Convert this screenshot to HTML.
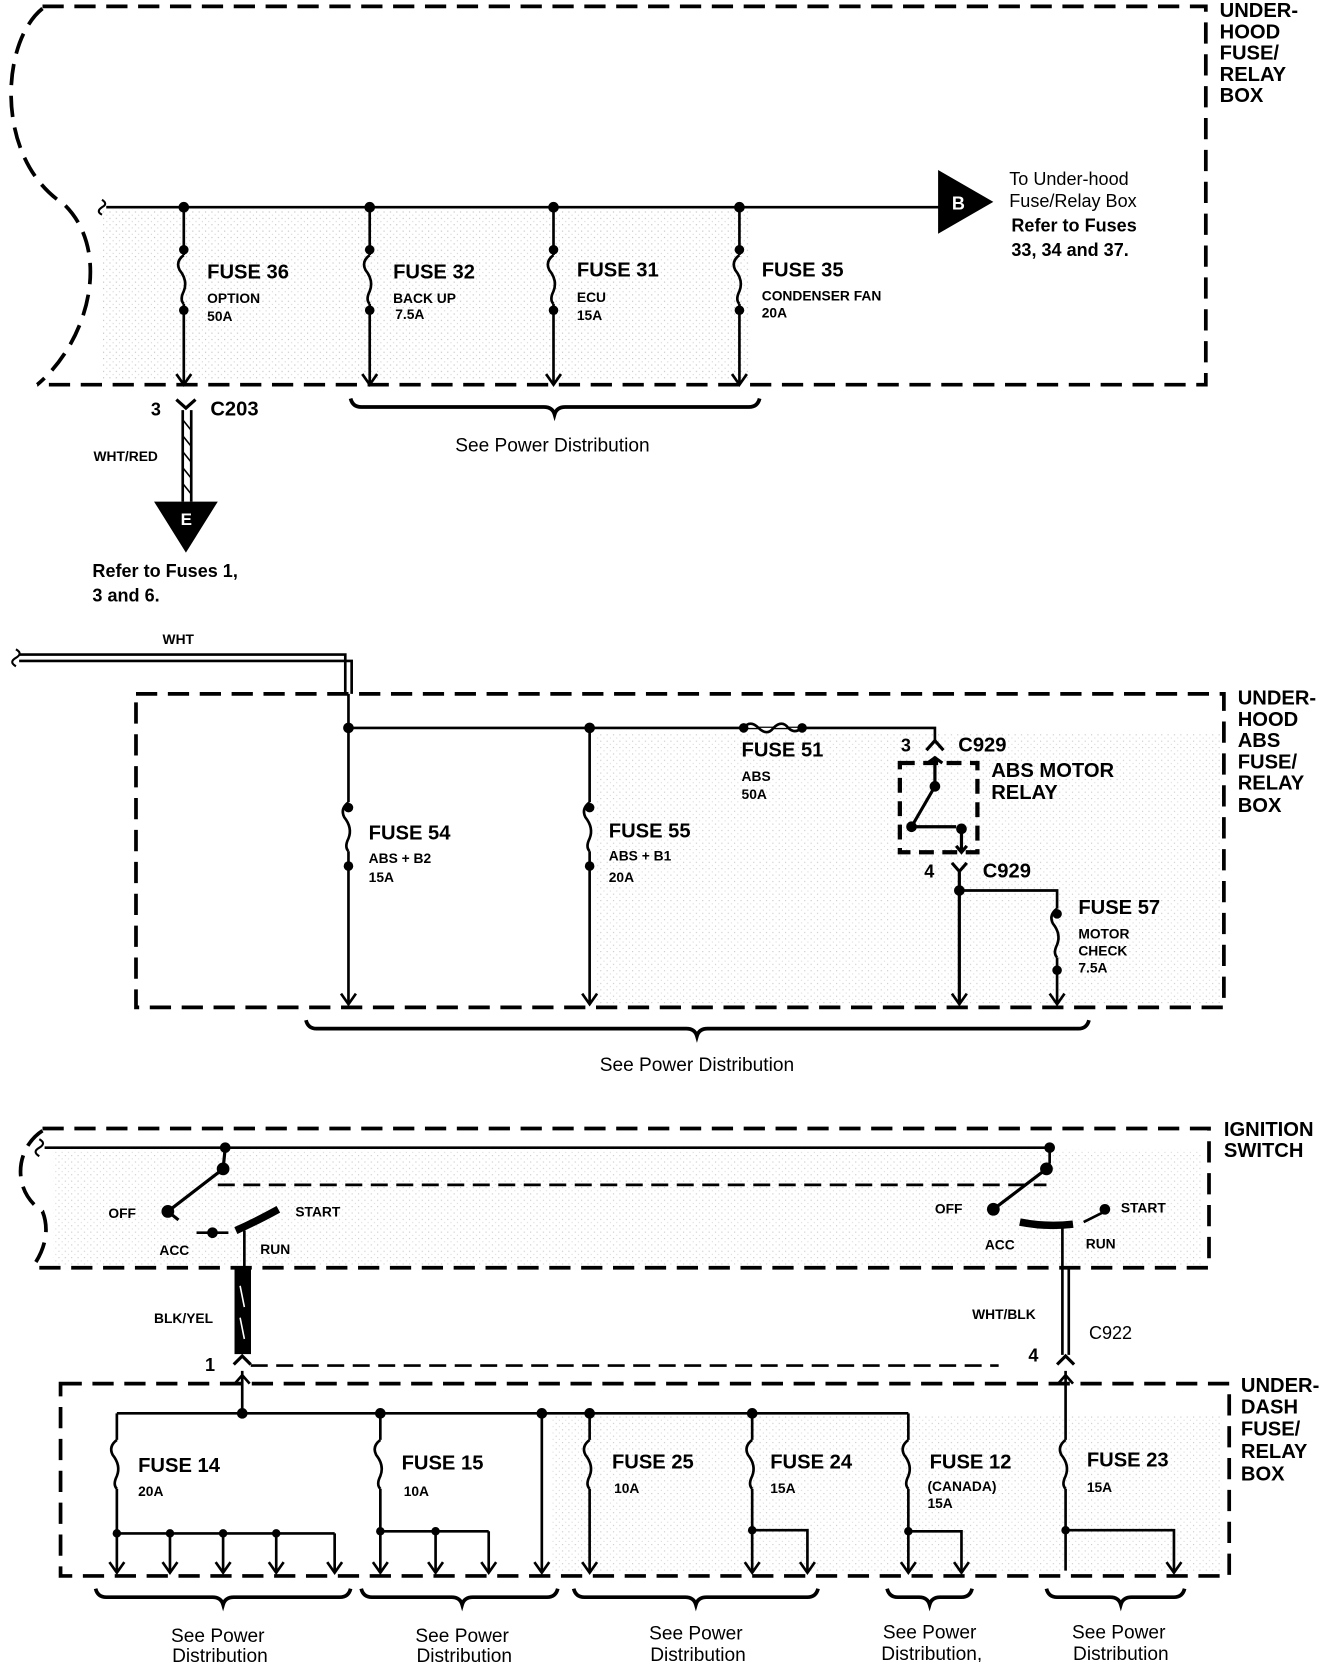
<!DOCTYPE html>
<html><head><meta charset="utf-8"><style>
html,body{margin:0;padding:0;background:#fff;}
svg{display:block;}
text{font-family:"Liberation Sans",Arial,sans-serif;font-weight:bold;fill:#000;}
.t{font-size:19px;}
.s{font-size:13px;}
.m{font-size:17px;}
.n{font-size:18px;font-weight:normal;}
</style></head><body>
<svg width="1328" height="1662" viewBox="0 0 1250 1564" preserveAspectRatio="none" xmlns="http://www.w3.org/2000/svg">
<defs>
<pattern id="dots" width="6" height="6" patternUnits="userSpaceOnUse"><rect width="6" height="6" fill="#fff"/><rect x="1" y="1" width="1" height="1" fill="#999"/><rect x="4" y="4" width="1" height="1" fill="#bbb"/></pattern>
<path id="fv" d="M0 0 q-8 6 -4 14 q8 10 4 20 q-4 8 0 12" fill="none" stroke="#000" stroke-width="2.5"/>
<path id="ar" d="M-7 -10 L0 0 L7 -10" fill="none" stroke="#000" stroke-width="2.5"/>
</defs>
<rect x="95" y="197" width="610" height="160" fill="url(#dots)" opacity="0.7"/>
<rect x="560" y="690" width="590" height="255" fill="url(#dots)" opacity="0.6"/>
<rect x="50" y="1082" width="1080" height="108" fill="url(#dots)" opacity="0.6"/>
<rect x="520" y="1332" width="630" height="148" fill="url(#dots)" opacity="0.6"/>
<g fill="none" stroke="#000" stroke-width="3.5" stroke-dasharray="20 10">
<path d="M40 6 L1135 6 L1135 362 L35 362" />
<path d="M40 8 C0 40 -5 150 60 192 C105 235 85 320 35 362"/>
<rect x="128" y="653" width="1024" height="295"/>
<path d="M40 1062 L1138 1062 L1138 1193 L30 1193"/>
<path d="M40 1064 C15 1080 10 1120 40 1140 C48 1160 40 1180 30 1193"/>
<rect x="57" y="1302" width="1100" height="181"/>
</g>
<rect x="847" y="718" width="73" height="84" fill="none" stroke="#000" stroke-width="4" stroke-dasharray="14 8"/>

<g fill="none" stroke="#000" stroke-width="2.5">
<path d="M100 195 L885 195"/>
<path d="M96 188 q6 4 0 7 q-6 4 0 7" stroke-width="2"/>
<path d="M173 195 L173 240 M173 286 L173 362"/>
<path d="M348 195 L348 240 M348 286 L348 362"/>
<path d="M521 195 L521 240 M521 286 L521 362"/>
<path d="M696 195 L696 240 M696 286 L696 362"/>
<path d="M166 376 L175 384 L184 376" stroke-width="3"/>
<path d="M172 386 L172 472 M180 386 L180 472"/>
<path d="M172 395 l8 10 M172 410 l8 10 M172 425 l8 10 M172 440 l8 10 M172 455 l8 10" stroke-width="1.5"/>
<path d="M330 375 q2 8 10 8 L512 383 q8 0 10 7 q2 -7 10 -7 L705 383 q8 0 10 -8" stroke-width="3.5"/>
<path d="M18 616 L325 616 L325 653 M18 622 L331 622 L331 653"/>
<path d="M15 611 q7 4 0 8 q-7 4 0 8" stroke-width="2"/>
<path d="M328 653 L328 685 L880 685 L880 698"/>
<path d="M328 685 L328 755 M328 801 L328 945"/>
<path d="M555 685 L555 755 M555 801 L555 945"/>
<path d="M700 685 q6 -8 14 0 q8 8 14 0 q8 -8 14 0 q6 6 13 0" fill="#fff"/>
<path d="M872 706 L880 697 L888 706" stroke-width="3"/>
<path d="M880 712 L880 740 L858 778 M862 778 L900 778 M905 780 L905 800 M900 796 L905 802 L910 796" stroke-width="3"/>
<path d="M873 718 l7 -5 l7 5" stroke-width="3"/>
<path d="M896 812 L903 820 L910 812 M903 820 L903 945" stroke-width="3"/>
<path d="M903 838 L995 838 L995 855 M995 901 L995 945"/>
<path d="M288 960 q2 8 10 8 L646 968 q8 0 10 7 q2 -7 10 -7 L1015 968 q8 0 10 -8" stroke-width="3.5"/>
<path d="M42 1080 L988 1080 L988 1095"/>
<path d="M37 1072 q7 4 0 8 q-7 4 0 8" stroke-width="2"/>
<path d="M205 1115 L985 1115" stroke-dasharray="16 8"/>
<path d="M212 1080 L210 1100 L158 1140 L168 1148" stroke-width="3"/>
<path d="M222 1158 Q240 1150 262 1138" stroke-width="7"/>
<path d="M185 1160 L215 1160"/>
<path d="M230 1158 L230 1195"/>
<rect x="222" y="1195" width="13" height="78" fill="#000"/>
<path d="M226 1210 l4 20 M226 1240 l4 20" stroke="#fff" stroke-width="1.5"/>
<path d="M220 1284 L228 1276 L236 1284" stroke-width="3"/>
<path d="M988 1095 L985 1100 L935 1138" stroke-width="3"/>
<path d="M960 1150 Q985 1155 1010 1152" stroke-width="7"/>
<path d="M1020 1150 L1040 1140"/>
<path d="M1000 1155 L1000 1193 M1000 1193 L1000 1275 M1006 1193 L1006 1275"/>
<path d="M995 1284 L1003 1276 L1011 1284" stroke-width="3"/>
<path d="M236 1285 L940 1285" stroke-dasharray="16 8"/>
<path d="M228 1290 L228 1330 M221 1302 L228 1294 L235 1302"/>
<path d="M1003 1290 L1003 1355 M996 1302 L1003 1294 L1010 1302"/>
<path d="M110 1330 L855 1330"/>
<path d="M110 1330 L110 1355 M110 1401 L110 1478 M110 1443 L315 1443 M160 1443 L160 1478 M210 1443 L210 1478 M260 1443 L260 1478 M315 1443 L315 1478"/>
<path d="M358 1330 L358 1355 M358 1401 L358 1478 M358 1441 L460 1441 M410 1441 L410 1478 M460 1441 L460 1478"/>
<path d="M510 1330 L510 1478"/>
<path d="M555 1330 L555 1355 M555 1401 L555 1478"/>
<path d="M708 1330 L708 1355 M708 1401 L708 1478 M708 1440 L760 1440 L760 1478"/>
<path d="M855 1330 L855 1355 M855 1401 L855 1478 M855 1441 L905 1441 L905 1478"/>
<path d="M1003 1401 L1003 1478 M1003 1440 L1105 1440 L1105 1478"/>
<g stroke-width="3.5">
<path d="M90 1495 q2 8 10 8 L200 1503 q8 0 10 7 q2 -7 10 -7 L320 1503 q8 0 10 -8"/>
<path d="M340 1495 q2 8 10 8 L425 1503 q8 0 10 7 q2 -7 10 -7 L515 1503 q8 0 10 -8"/>
<path d="M540 1495 q2 8 10 8 L645 1503 q8 0 10 7 q2 -7 10 -7 L760 1503 q8 0 10 -8"/>
<path d="M835 1495 q2 8 10 8 L865 1503 q8 0 10 7 q2 -7 10 -7 L905 1503 q8 0 10 -8"/>
<path d="M985 1495 q2 8 10 8 L1045 1503 q8 0 10 7 q2 -7 10 -7 L1105 1503 q8 0 10 -8"/>
</g>
</g>
<use href="#fv" x="173" y="240"/><use href="#fv" x="348" y="240"/><use href="#fv" x="521" y="240"/><use href="#fv" x="696" y="240"/>
<use href="#fv" x="328" y="755"/><use href="#fv" x="555" y="755"/><use href="#fv" x="995" y="855"/>
<use href="#fv" x="110" y="1355"/><use href="#fv" x="358" y="1355"/><use href="#fv" x="555" y="1355"/><use href="#fv" x="708" y="1355"/><use href="#fv" x="855" y="1355"/><use href="#fv" x="1003" y="1355"/>
<g>
<use href="#ar" x="173" y="362"/><use href="#ar" x="348" y="362"/><use href="#ar" x="521" y="362"/><use href="#ar" x="696" y="362"/>
<use href="#ar" x="328" y="945"/><use href="#ar" x="555" y="945"/><use href="#ar" x="903" y="945"/><use href="#ar" x="995" y="945"/>
<use href="#ar" x="110" y="1480"/><use href="#ar" x="160" y="1480"/><use href="#ar" x="210" y="1480"/><use href="#ar" x="260" y="1480"/><use href="#ar" x="315" y="1480"/>
<use href="#ar" x="358" y="1480"/><use href="#ar" x="410" y="1480"/><use href="#ar" x="460" y="1480"/><use href="#ar" x="510" y="1480"/>
<use href="#ar" x="555" y="1480"/><use href="#ar" x="708" y="1480"/><use href="#ar" x="760" y="1480"/><use href="#ar" x="855" y="1480"/><use href="#ar" x="905" y="1480"/><use href="#ar" x="1105" y="1480"/>
</g>
<g fill="#000">
<circle cx="173" cy="195" r="5"/><circle cx="348" cy="195" r="5"/><circle cx="521" cy="195" r="5"/><circle cx="696" cy="195" r="5"/>
<circle cx="173" cy="235" r="4.5"/><circle cx="348" cy="235" r="4.5"/><circle cx="521" cy="235" r="4.5"/><circle cx="696" cy="235" r="4.5"/>
<circle cx="173" cy="292" r="4.5"/><circle cx="348" cy="292" r="4.5"/><circle cx="521" cy="292" r="4.5"/><circle cx="696" cy="292" r="4.5"/>
<circle cx="328" cy="685" r="5"/><circle cx="555" cy="685" r="5"/><circle cx="700" cy="685" r="4.5"/><circle cx="755" cy="685" r="4.5"/>
<circle cx="328" cy="760" r="4.5"/><circle cx="328" cy="815" r="4.5"/><circle cx="555" cy="760" r="4.5"/><circle cx="555" cy="815" r="4.5"/>
<circle cx="995" cy="860" r="4.5"/><circle cx="995" cy="913" r="4.5"/><circle cx="903" cy="838" r="5"/>
<circle cx="880" cy="740" r="5"/><circle cx="858" cy="778" r="5"/><circle cx="905" cy="780" r="5"/>
<circle cx="212" cy="1080" r="5"/><circle cx="210" cy="1100" r="6"/><circle cx="158" cy="1140" r="6"/><circle cx="200" cy="1160" r="5"/>
<circle cx="988" cy="1080" r="5"/><circle cx="985" cy="1100" r="6"/><circle cx="935" cy="1138" r="6"/><circle cx="1040" cy="1138" r="5"/>
<circle cx="228" cy="1330" r="5"/><circle cx="358" cy="1330" r="5"/><circle cx="510" cy="1330" r="5"/><circle cx="555" cy="1330" r="5"/><circle cx="708" cy="1330" r="5"/>
<circle cx="110" cy="1443" r="4"/><circle cx="160" cy="1443" r="4"/><circle cx="210" cy="1443" r="4"/><circle cx="260" cy="1443" r="4"/>
<circle cx="358" cy="1441" r="4"/><circle cx="410" cy="1441" r="4"/><circle cx="708" cy="1440" r="4"/><circle cx="855" cy="1441" r="4"/><circle cx="1003" cy="1440" r="4"/>
<path d="M883 160 L935 190 L883 220 Z"/>
<path d="M145 472 L205 472 L175 520 Z"/>
</g>
<text x="896" y="197" style="fill:#fff;font-size:17px">B</text>
<text x="170" y="494" style="fill:#fff;font-size:16px">E</text>

<text x="1148" y="16" class="t">UNDER-</text><text x="1148" y="36" class="t">HOOD</text><text x="1148" y="56" class="t">FUSE/</text><text x="1148" y="76" class="t">RELAY</text><text x="1148" y="96" class="t">BOX</text>
<text x="950" y="174" class="m" style="font-weight:normal">To Under-hood</text>
<text x="950" y="195" class="m" style="font-weight:normal">Fuse/Relay Box</text>
<text x="952" y="218" class="m">Refer to Fuses</text>
<text x="952" y="241" class="m">33, 34 and 37.</text>
<text x="195" y="262" class="t">FUSE 36</text><text x="195" y="285" class="s">OPTION</text><text x="195" y="302" class="s">50A</text>
<text x="370" y="262" class="t">FUSE 32</text><text x="370" y="285" class="s">BACK UP</text><text x="372" y="300" class="s">7.5A</text>
<text x="543" y="260" class="t">FUSE 31</text><text x="543" y="284" class="s">ECU</text><text x="543" y="301" class="s">15A</text>
<text x="717" y="260" class="t">FUSE 35</text><text x="717" y="283" class="s">CONDENSER FAN</text><text x="717" y="299" class="s">20A</text>
<text x="142" y="391" class="m">3</text><text x="198" y="391" class="t">C203</text>
<text x="88" y="434" class="s">WHT/RED</text>
<text x="87" y="543" class="m">Refer to Fuses 1,</text><text x="87" y="566" class="m">3 and 6.</text>
<text x="520" y="425" class="n" text-anchor="middle">See Power Distribution</text>
<text x="153" y="606" class="s">WHT</text>
<text x="1165" y="663" class="t">UNDER-</text><text x="1165" y="683" class="t">HOOD</text><text x="1165" y="703" class="t">ABS</text><text x="1165" y="723" class="t">FUSE/</text><text x="1165" y="743" class="t">RELAY</text><text x="1165" y="764" class="t">BOX</text>
<text x="698" y="712" class="t">FUSE 51</text><text x="698" y="735" class="s">ABS</text><text x="698" y="752" class="s">50A</text>
<text x="848" y="707" class="m">3</text><text x="902" y="707" class="t">C929</text>
<text x="933" y="731" class="t">ABS MOTOR</text><text x="933" y="752" class="t">RELAY</text>
<text x="870" y="826" class="m">4</text><text x="925" y="826" class="t">C929</text>
<text x="347" y="790" class="t">FUSE 54</text><text x="347" y="812" class="s">ABS + B2</text><text x="347" y="830" class="s">15A</text>
<text x="573" y="788" class="t">FUSE 55</text><text x="573" y="810" class="s">ABS + B1</text><text x="573" y="830" class="s">20A</text>
<text x="1015" y="860" class="t">FUSE 57</text><text x="1015" y="883" class="s">MOTOR</text><text x="1015" y="899" class="s">CHECK</text><text x="1015" y="915" class="s">7.5A</text>
<text x="656" y="1008" class="n" text-anchor="middle">See Power Distribution</text>
<text x="1152" y="1069" class="t">IGNITION</text><text x="1152" y="1089" class="t">SWITCH</text>
<text x="102" y="1146" class="s">OFF</text><text x="278" y="1145" class="s">START</text><text x="150" y="1181" class="s">ACC</text><text x="245" y="1180" class="s">RUN</text>
<text x="880" y="1142" class="s">OFF</text><text x="1055" y="1141" class="s">START</text><text x="927" y="1176" class="s">ACC</text><text x="1022" y="1175" class="s">RUN</text>
<text x="145" y="1245" class="s">BLK/YEL</text><text x="193" y="1290" class="m">1</text>
<text x="915" y="1241" class="s">WHT/BLK</text><text x="1025" y="1260" class="m" style="font-weight:normal">C922</text><text x="968" y="1281" class="m">4</text>
<text x="1168" y="1310" class="t">UNDER-</text><text x="1168" y="1330" class="t">DASH</text><text x="1168" y="1351" class="t">FUSE/</text><text x="1168" y="1372" class="t">RELAY</text><text x="1168" y="1393" class="t">BOX</text>
<text x="130" y="1385" class="t">FUSE 14</text><text x="130" y="1408" class="s">20A</text>
<text x="378" y="1383" class="t">FUSE 15</text><text x="380" y="1408" class="s">10A</text>
<text x="576" y="1382" class="t">FUSE 25</text><text x="578" y="1405" class="s">10A</text>
<text x="725" y="1382" class="t">FUSE 24</text><text x="725" y="1405" class="s">15A</text>
<text x="875" y="1382" class="t">FUSE 12</text><text x="873" y="1403" class="s">(CANADA)</text><text x="873" y="1419" class="s">15A</text>
<text x="1023" y="1380" class="t">FUSE 23</text><text x="1023" y="1404" class="s">15A</text>
<text x="205" y="1545" class="n" text-anchor="middle">See Power</text><text x="207" y="1564" class="n" text-anchor="middle">Distribution</text>
<text x="435" y="1545" class="n" text-anchor="middle">See Power</text><text x="437" y="1564" class="n" text-anchor="middle">Distribution</text>
<text x="655" y="1543" class="n" text-anchor="middle">See Power</text><text x="657" y="1563" class="n" text-anchor="middle">Distribution</text>
<text x="875" y="1542" class="n" text-anchor="middle">See Power</text><text x="877" y="1562" class="n" text-anchor="middle">Distribution,</text>
<text x="1053" y="1542" class="n" text-anchor="middle">See Power</text><text x="1055" y="1562" class="n" text-anchor="middle">Distribution</text>
</svg>
</body></html>
